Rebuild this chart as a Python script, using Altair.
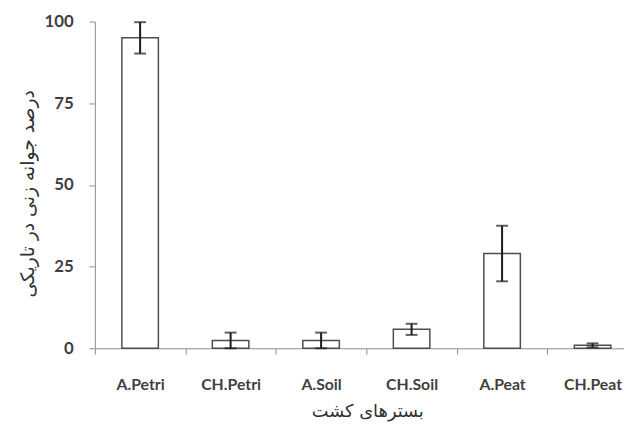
import altair as alt
import pandas as pd

categories = ["A.Petri", "CH.Petri", "A.Soil", "CH.Soil", "A.Peat", "CH.Peat"]
means = [95.0, 2.4, 2.4, 5.8, 29.0, 0.9]
errors = [4.8, 2.4, 2.4, 1.7, 8.5, 0.6]
y_ticks = [0, 25, 50, 75, 100]

df = pd.DataFrame({"cat": categories, "mean": means, "err": errors})
df["lo"] = (df["mean"] - df["err"]).clip(lower=0)
df["hi"] = df["mean"] + df["err"]

label_font = "Lato"
title_font = "DejaVu Sans"

x_enc = alt.X(
    "cat:N",
    sort=categories,
    scale=alt.Scale(domain=categories, range=[0, 550], paddingInner=0, paddingOuter=0),
    axis=alt.Axis(
        title="بسترهای کشت",
        labelAngle=0,
        tickBand="extent",
        tickSize=6,
        labelPadding=23,
        labelFont=label_font,
        labelFontSize=16,
        labelFontWeight="bold",
        labelColor="#404040",
        domainColor="#8c8c8c",
        tickColor="#8c8c8c",
        titleFont=title_font,
        titleFontSize=18,
        titleFontWeight="normal",
        titleColor="#303030",
        titleX=276,
        titleY=64,
        titleBaseline="middle",
        titleAlign="center",
    ),
)

y_scale = alt.Scale(domain=[0, 100], nice=False)
y_axis = alt.Axis(
    title="درصد جوانه زنی در تاریکی",
    values=y_ticks,
    grid=False,
    tickSize=6,
    labelPadding=16,
    labelFont=label_font,
    labelFontSize=17,
    labelFontWeight="bold",
    labelColor="#404040",
    domainColor="#8c8c8c",
    tickColor="#8c8c8c",
    titleFont=title_font,
    titleFontSize=19,
    titleFontWeight="normal",
    titleColor="#303030",
    titleAngle=-90,
    titleX=-68,
    titleY=174,
    titleAlign="center",
    titleBaseline="middle",
)

base = alt.Chart(df)

bars = base.mark_bar(size=37, fill="white", stroke="#4d4d4d", strokeWidth=1.5).encode(
    x=x_enc,
    y=alt.Y("mean:Q", scale=y_scale, axis=y_axis),
)

rules = base.mark_rule(color="#1a1a1a", strokeWidth=2).encode(
    x=alt.X("cat:N", sort=categories),
    y=alt.Y("lo:Q"),
    y2="hi:Q",
)

caps_hi = base.mark_tick(color="#1a1a1a", size=12, thickness=2).encode(
    x=alt.X("cat:N", sort=categories),
    y=alt.Y("hi:Q"),
)
caps_lo = base.mark_tick(color="#1a1a1a", size=12, thickness=2).encode(
    x=alt.X("cat:N", sort=categories),
    y=alt.Y("lo:Q"),
)

chart = (
    alt.layer(bars, rules, caps_hi, caps_lo)
    .properties(
        width=536,
        height=331,
        autosize=alt.AutoSizeParams(type="none"),
        padding={"left": 88, "top": 11, "right": 0, "bottom": 74},
        background="white",
    )
    .configure_view(stroke=None)
)

chart.save("out.html", embed_options={"renderer": "svg", "actions": False})
